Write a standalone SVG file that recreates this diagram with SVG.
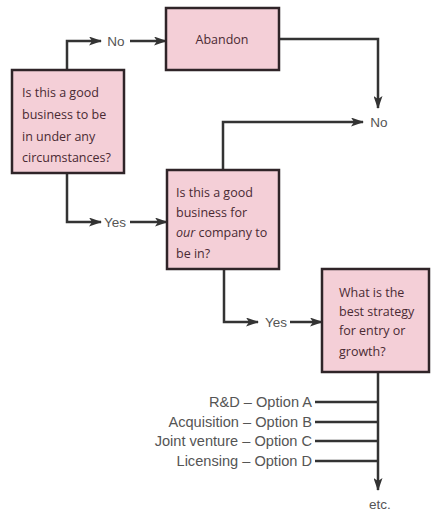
<svg xmlns="http://www.w3.org/2000/svg" width="431" height="511" viewBox="0 0 431 511">
<defs>
<style>
.box{fill:#f4cfd7;stroke:#2f2428;stroke-width:2.5}
.bt{font-family:"Open Sans","Noto Sans",sans-serif;font-size:12.5px;fill:#4a2a33}
.lbl{font-family:"Liberation Sans",Arial,sans-serif;font-size:13.5px;fill:#555}
.opt{font-family:"Liberation Sans",Arial,sans-serif;font-size:14.6px;fill:#555}
.c{fill:none;stroke:#333;stroke-width:2.5}
</style>
<marker id="ah" viewBox="0 0 13 9" refX="12" refY="4.5" markerWidth="13" markerHeight="9" markerUnits="userSpaceOnUse" orient="auto">
<path d="M0,0 L13,4.5 L0,9 L3,4.5 Z" fill="#333"/>
</marker>
</defs>
<rect width="431" height="511" fill="#fff"/>
<g id="connectors">
<path class="c" d="M67,70 V41 H101" marker-end="url(#ah)"/>
<path class="c" d="M130,41 H166" marker-end="url(#ah)"/>
<path class="c" d="M279,39 H378 V108" marker-end="url(#ah)"/>
<path class="c" d="M223,170 V122 H363" marker-end="url(#ah)"/>
<path class="c" d="M67,173 V222 H101" marker-end="url(#ah)"/>
<path class="c" d="M130,222 H167" marker-end="url(#ah)"/>
<path class="c" d="M224,269 V322 H258" marker-end="url(#ah)"/>
<path class="c" d="M290,322 H322" marker-end="url(#ah)"/>
<path class="c" d="M378,372 V490" marker-end="url(#ah)"/>
<path class="c" d="M315,402 H378 M315,422 H378 M315,441 H378 M315,461 H378"/>
<text class="lbl" x="116" y="46" text-anchor="middle">No</text>
<text class="lbl" x="379" y="127" text-anchor="middle">No</text>
<text class="lbl" x="115" y="227" text-anchor="middle">Yes</text>
<text class="lbl" x="276" y="327" text-anchor="middle">Yes</text>
<text class="opt" x="312" y="407" text-anchor="end">R&amp;D – Option A</text>
<text class="opt" x="312" y="427" text-anchor="end">Acquisition – Option B</text>
<text class="opt" x="312" y="446" text-anchor="end">Joint venture – Option C</text>
<text class="opt" x="312" y="466" text-anchor="end">Licensing – Option D</text>
<text class="lbl" x="380" y="509" text-anchor="middle">etc.</text>
</g>
<g id="q1">
<rect class="box" x="12" y="70" width="112" height="103"/>
<text class="bt" x="22" y="97">Is this a good</text>
<text class="bt" x="22" y="119">business to be</text>
<text class="bt" x="22" y="141">in under any</text>
<text class="bt" x="22" y="162">circumstances?</text>
</g>
<g id="abandon">
<rect class="box" x="166" y="8" width="113" height="62"/>
<text class="bt" x="222" y="44" text-anchor="middle">Abandon</text>
</g>
<g id="q2">
<rect class="box" x="167" y="170" width="112" height="99"/>
<text class="bt" x="176" y="197">Is this a good</text>
<text class="bt" x="176" y="217">business for</text>
<text class="bt" x="176" y="237"><tspan font-style="italic">our</tspan> company to</text>
<text class="bt" x="176" y="258">be in?</text>
</g>
<g id="q3">
<rect class="box" x="322" y="269" width="107" height="103"/>
<text class="bt" x="339" y="297">What is the</text>
<text class="bt" x="339" y="316">best strategy</text>
<text class="bt" x="339" y="335">for entry or</text>
<text class="bt" x="339" y="356">growth?</text>
</g>
</svg>
